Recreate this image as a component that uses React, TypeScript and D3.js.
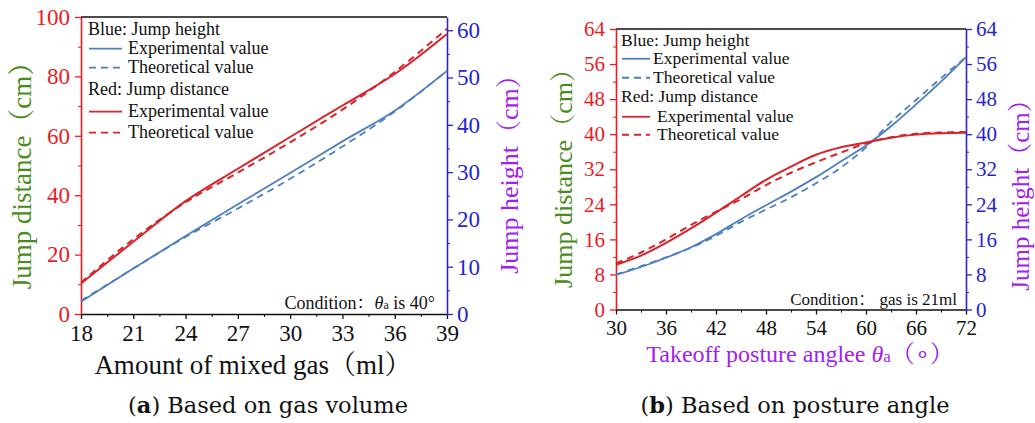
import React, { useRef, useEffect } from "react";
import * as d3 from "d3";

// ---- panel (a): based on gas volume ----
const gasVolume = [18, 21, 24, 27, 30, 33, 36, 39];
const distExpA = [10.3, 24.3, 38.0, 48.9, 59.6, 70.2, 80.8, 94.3];
const distTheoA = [10.6, 25.2, 37.6, 47.6, 57.8, 68.8, 81.5, 96.0];
const heightExpA = [2.6, 9.6, 16.5, 23.2, 29.8, 36.5, 43.0, 51.4];
const heightTheoA = [2.8, 9.6, 16.3, 22.3, 28.6, 35.4, 42.8, 51.4];

// ---- panel (b): based on posture angle ----
const postureAngle = [30, 33, 36, 39, 42, 45, 48, 51, 54, 57, 60, 63, 66, 69, 72];
const distExpB = [10.2, 12.3, 15.2, 18.5, 22.1, 25.9, 29.6, 32.6, 35.3, 37.0, 38.1, 39.2, 39.9, 40.2, 40.3];
const distTheoB = [10.5, 13.0, 16.0, 19.3, 22.3, 25.2, 28.4, 31.2, 33.6, 35.8, 37.9, 39.3, 40.1, 40.4, 40.5];
const heightExpB = [7.9, 9.7, 11.8, 14.2, 17.2, 20.6, 23.8, 26.9, 30.2, 33.8, 37.4, 41.8, 46.8, 52.0, 57.6];
const heightTheoB = [8.0, 9.9, 11.9, 14.1, 16.8, 20.0, 22.8, 25.6, 28.8, 32.4, 37.0, 42.8, 47.8, 52.8, 57.6];

const ticksA = { x: [18, 21, 24, 27, 30, 33, 36, 39], left: [0, 20, 40, 60, 80, 100], right: [0, 10, 20, 30, 40, 50, 60] };
const ticksB = { x: [30, 36, 42, 48, 54, 60, 66, 72], left: [0, 8, 16, 24, 32, 40, 48, 56, 64], right: [0, 8, 16, 24, 32, 40, 48, 56, 64] };

const SERIF = "'Liberation Serif', 'Times New Roman', 'Noto Serif CJK SC', 'Noto Sans CJK SC', serif";
const CAPTION = "'DejaVu Serif', 'Liberation Serif', serif";
const RED_LINE = "#d8232a";
const BLUE_LINE = "#4d7fc0";
const RED_AXIS = "#ee1a1e";
const BLUE_AXIS = "#2626cc";
const GREEN = "#4a8c1c";
const PURPLE = "#a01ef0";

type Panel = {
  left: number; right: number; top: number; bottom: number;
  xDomain: [number, number]; lDomain: [number, number]; rDomain: [number, number];
  xTicks: number[]; xMinor: number[];
  lTicks: number[]; lMinor: number[];
  rTicks: number[]; rMinor: number[];
  tickFont: number;
  xs: number[]; distExp: number[]; distTheo: number[]; hExp: number[]; hTheo: number[];
};

function drawPanel(svg: d3.Selection<SVGSVGElement, unknown, null, undefined>, p: Panel) {
  const x = d3.scaleLinear().domain(p.xDomain).range([p.left, p.right]);
  const yl = d3.scaleLinear().domain(p.lDomain).range([p.bottom, p.top]);
  const yr = d3.scaleLinear().domain(p.rDomain).range([p.bottom, p.top]);
  const g = svg.append("g");

  // top frame line
  g.append("line").attr("x1", p.left).attr("x2", p.right).attr("y1", p.top).attr("y2", p.top)
    .attr("stroke", "#111").attr("stroke-width", 1.5);

  const style = (sel: any, color: string, textColor: string) => {
    sel.selectAll("path").attr("stroke", color).attr("stroke-width", 1.6);
    sel.selectAll("line").attr("stroke", color).attr("stroke-width", 1.3);
    sel.selectAll("text").attr("fill", textColor).style("font-family", SERIF).style("font-size", p.tickFont + "px");
  };

  // minor ticks first
  g.append("g").attr("transform", `translate(0,${p.bottom})`)
    .call(d3.axisBottom(x).tickValues(p.xMinor).tickSize(3).tickFormat(() => ""))
    .call((s) => { s.select("path").remove(); s.selectAll("line").attr("stroke", "#111"); });
  g.append("g").attr("transform", `translate(${p.left},0)`)
    .call(d3.axisLeft(yl).tickValues(p.lMinor).tickSize(3).tickFormat(() => ""))
    .call((s) => { s.select("path").remove(); s.selectAll("line").attr("stroke", RED_AXIS); });
  g.append("g").attr("transform", `translate(${p.right},0)`)
    .call(d3.axisRight(yr).tickValues(p.rMinor).tickSize(3).tickFormat(() => ""))
    .call((s) => { s.select("path").remove(); s.selectAll("line").attr("stroke", BLUE_AXIS); });

  const bx = g.append("g").attr("transform", `translate(0,${p.bottom})`)
    .call(d3.axisBottom(x).tickValues(p.xTicks).tickSize(5).tickPadding(6).tickSizeOuter(0));
  style(bx, "#111", "#111");
  const lx = g.append("g").attr("transform", `translate(${p.left},0)`)
    .call(d3.axisLeft(yl).tickValues(p.lTicks).tickSize(6).tickPadding(5).tickSizeOuter(0));
  style(lx, RED_AXIS, RED_AXIS);
  const rx = g.append("g").attr("transform", `translate(${p.right},0)`)
    .call(d3.axisRight(yr).tickValues(p.rTicks).tickSize(6).tickPadding(4).tickSizeOuter(0));
  style(rx, BLUE_AXIS, BLUE_AXIS);

  const mk = (vals: number[], ys: d3.ScaleLinear<number, number>) =>
    d3.line<number>().x((_, i) => x(p.xs[i])).y((d) => ys(d)).curve(d3.curveCatmullRom.alpha(0.5))(vals);

  const series = [
    { v: p.hTheo, s: yr, c: BLUE_LINE, dash: "7,5", w: 1.8 },
    { v: p.hExp, s: yr, c: BLUE_LINE, dash: null, w: 1.8 },
    { v: p.distTheo, s: yl, c: RED_LINE, dash: "7,5", w: 2 },
    { v: p.distExp, s: yl, c: RED_LINE, dash: null, w: 2 },
  ];
  series.forEach((d) => {
    g.append("path").attr("d", mk(d.v, d.s)).attr("fill", "none").attr("stroke", d.c)
      .attr("stroke-width", d.w).attr("stroke-dasharray", d.dash);
  });
}

function legend(svg: any, x0: number, rows: number[], fs: number, lineEnd: number, textX: number[]) {
  const items = [
    { t: "Blue: Jump height", c: null, dash: null },
    { t: "Experimental value", c: BLUE_LINE, dash: null },
    { t: "Theoretical value", c: BLUE_LINE, dash: "7,5" },
    { t: "Red: Jump distance", c: null, dash: null },
    { t: "Experimental value", c: RED_LINE, dash: null },
    { t: "Theoretical value", c: RED_LINE, dash: "7,5" },
  ];
  items.forEach((it, i) => {
    if (it.c) {
      svg.append("line").attr("x1", x0 + 1).attr("x2", lineEnd).attr("y1", rows[i] - fs * 0.3).attr("y2", rows[i] - fs * 0.3)
        .attr("stroke", it.c).attr("stroke-width", 1.8).attr("stroke-dasharray", it.dash);
    }
    svg.append("text").attr("x", it.c ? textX[i] : x0).attr("y", rows[i]).attr("fill", "#111")
      .style("font-family", SERIF).style("font-size", fs + "px").text(it.t);
  });
}

function rotTitle(svg: any, x: number, y: number, fs: number, color: string, t: string) {
  svg.append("text").attr("transform", `translate(${x},${y}) rotate(-90)`).attr("text-anchor", "middle")
    .attr("fill", color).style("font-family", SERIF).style("font-size", fs + "px").text(t);
}

export default function App() {
  const ref = useRef<SVGSVGElement>(null);

  useEffect(() => {
    const svg = d3.select(ref.current as SVGSVGElement);
    svg.selectAll("*").remove();

    drawPanel(svg, {
      left: 81, right: 447, top: 17, bottom: 314,
      xDomain: [18, 39], lDomain: [0, 100], rDomain: [0, 62.8],
      xTicks: ticksA.x, xMinor: d3.range(19.5, 39, 3),
      lTicks: ticksA.left, lMinor: d3.range(10, 100, 20),
      rTicks: ticksA.right, rMinor: d3.range(5, 62, 10),
      tickFont: 23,
      xs: gasVolume, distExp: distExpA, distTheo: distTheoA, hExp: heightExpA, hTheo: heightTheoA,
    });
    drawPanel(svg, {
      left: 616, right: 966, top: 29, bottom: 309.5,
      xDomain: [30, 72], lDomain: [0, 64], rDomain: [0, 64],
      xTicks: ticksB.x, xMinor: d3.range(33, 72, 6),
      lTicks: ticksB.left, lMinor: d3.range(4, 64, 8),
      rTicks: ticksB.right, rMinor: d3.range(4, 64, 8),
      tickFont: 21,
      xs: postureAngle, distExp: distExpB, distTheo: distTheoB, hExp: heightExpB, hTheo: heightTheoB,
    });

    legend(svg, 88, [35, 54, 73, 95, 117, 138], 18, 122, [128, 128, 128, 128, 128, 128]);
    legend(svg, 621, [46, 64, 83, 102, 122, 140], 17.5, 650, [653, 653, 653, 621, 657, 657]);

    // condition notes
    const condA = svg.append("text").attr("x", 435).attr("y", 309).attr("text-anchor", "end").attr("fill", "#111")
      .style("font-family", SERIF).style("font-size", "18px");
    condA.append("tspan").text("Condition：");
    condA.append("tspan").style("font-style", "italic").text("θ");
    condA.append("tspan").style("font-size", "12px").text("a");
    condA.append("tspan").text(" is 40°");
    svg.append("text").attr("x", 957).attr("y", 305).attr("text-anchor", "end").attr("fill", "#111")
      .style("font-family", SERIF).style("font-size", "17px").text("Condition： gas is 21ml");

    // axis titles
    rotTitle(svg, 31, 169, 27, GREEN, "Jump distance（cm）");
    rotTitle(svg, 518, 168, 26, PURPLE, "Jump height（cm）");
    rotTitle(svg, 572, 172, 26, GREEN, "Jump distance（cm）");
    rotTitle(svg, 1029, 189, 25, PURPLE, "Jump height（cm）");

    svg.append("text").attr("x", 253).attr("y", 374).attr("text-anchor", "middle").attr("fill", "#111")
      .style("font-family", SERIF).style("font-size", "27px").text("Amount of mixed gas（ml）");
    const tb = svg.append("text").attr("x", 800).attr("y", 362).attr("text-anchor", "middle").attr("fill", PURPLE)
      .style("font-family", SERIF).style("font-size", "24px");
    tb.append("tspan").text("Takeoff posture anglee ");
    tb.append("tspan").style("font-style", "italic").text("θ");
    tb.append("tspan").style("font-size", "17px").text("a");
    tb.append("tspan").text("（∘）");

    // captions
    const capA = svg.append("text").attr("x", 268).attr("y", 413).attr("text-anchor", "middle").attr("fill", "#111")
      .style("font-family", CAPTION).style("font-size", "22.5px");
    capA.append("tspan").text("(");
    capA.append("tspan").style("font-weight", "bold").text("a");
    capA.append("tspan").text(") Based on gas volume");
    const capB = svg.append("text").attr("x", 795).attr("y", 413).attr("text-anchor", "middle").attr("fill", "#111")
      .style("font-family", CAPTION).style("font-size", "22.5px");
    capB.append("tspan").text("(");
    capB.append("tspan").style("font-weight", "bold").text("b");
    capB.append("tspan").text(") Based on posture angle");
  }, []);

  return (
    <svg ref={ref} width={1035} height={423}
      style={{ position: "absolute", left: 0, top: 0, background: "#fff" }} />
  );
}
